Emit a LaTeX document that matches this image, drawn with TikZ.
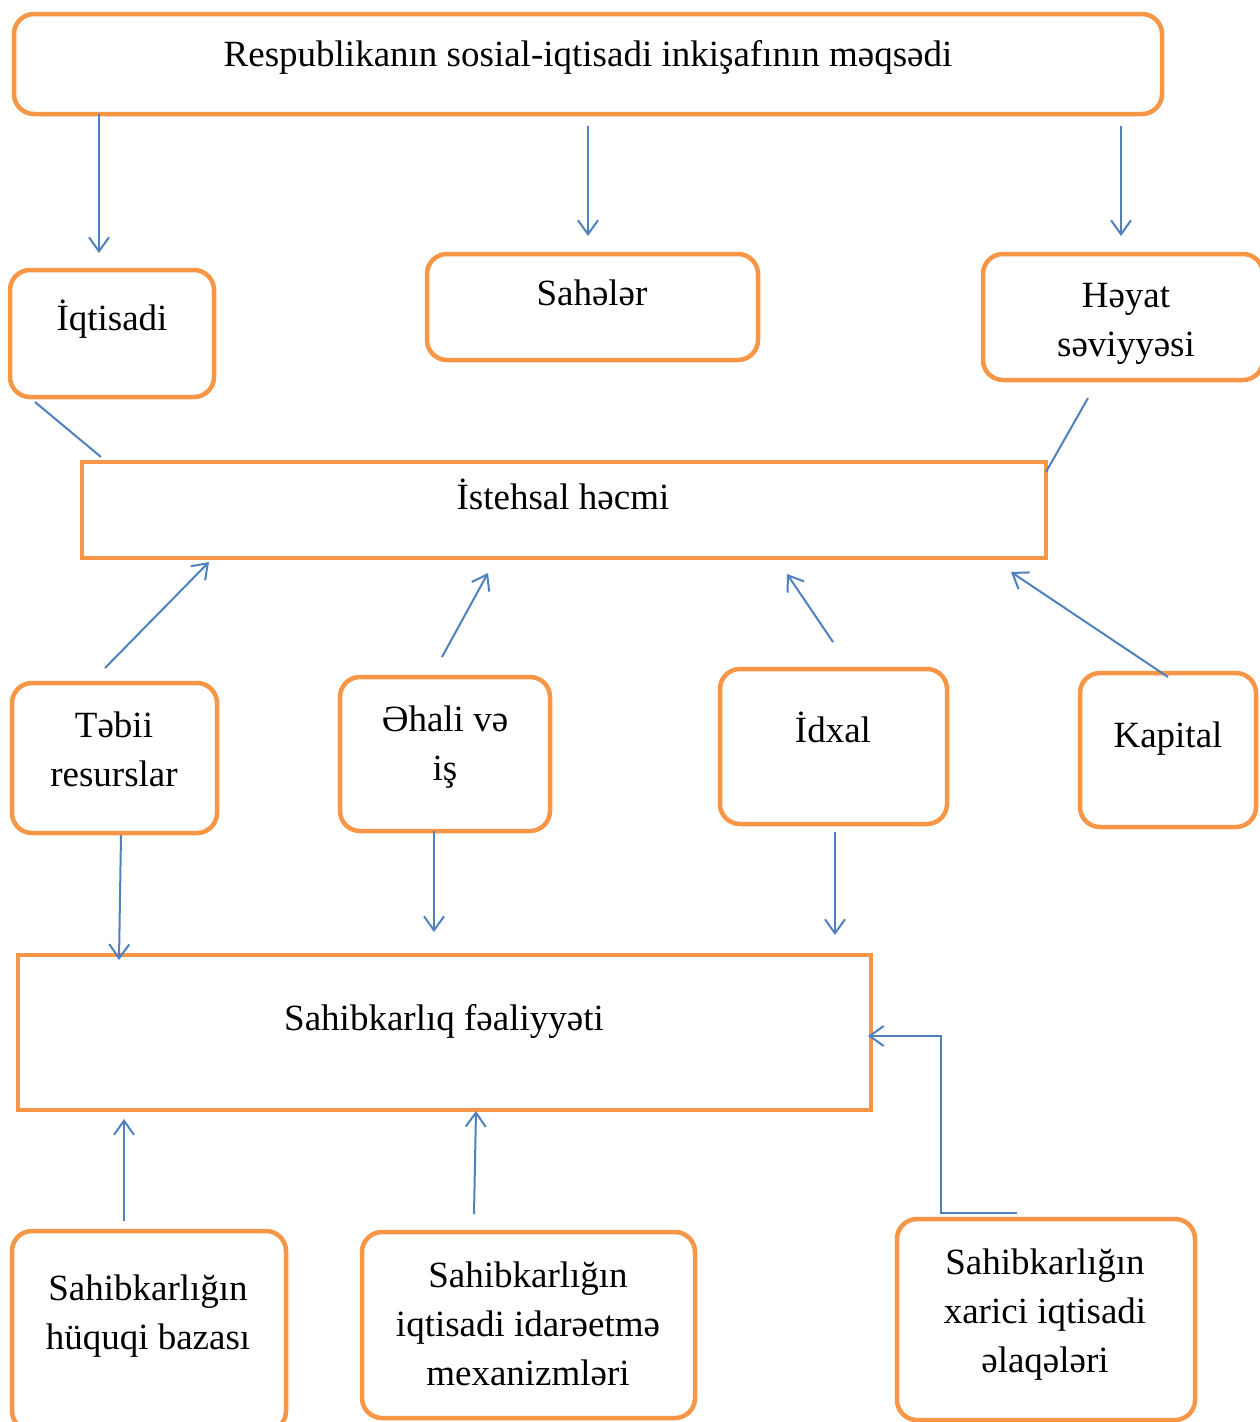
\documentclass[tikz,border=0pt]{standalone}
\usepackage{fontspec}
\setmainfont{Liberation Serif}
\usetikzlibrary{arrows.meta}
\definecolor{boxorange}{HTML}{F79646}
\definecolor{arrowblue}{HTML}{4F81BD}
\begin{document}
\begin{tikzpicture}[x=1pt,y=-1pt,
  rbox/.style={draw=boxorange,line width=4.5pt,rounded corners=20pt,rectangle,inner sep=0pt},
  sbox/.style={draw=boxorange,line width=4.5pt,rectangle,inner sep=0pt},
  lbl/.style={font=\fontsize{37}{49}\selectfont,align=center,anchor=base,inner sep=0pt},
  arr/.style={draw=arrowblue,line width=2pt,-{Straight Barb[length=14pt,width=20pt,line width=2pt]}},
  ln/.style={draw=arrowblue,line width=2pt}]
\useasboundingbox[fill=white] (0,0) rectangle (1259,1422);
% boxes
\node[rbox,minimum width=1148pt,minimum height=100pt] (top) at (588,64) {};
\node[rbox,minimum width=204pt,minimum height=127pt] (iqt) at (112,333.5) {};
\node[rbox,minimum width=331pt,minimum height=106pt] (sah) at (592.5,307) {};
\node[rbox,minimum width=280pt,minimum height=126pt] (hey) at (1123,317) {};
\node[sbox,minimum width=964pt,minimum height=96pt] (ist) at (564,510) {};
\node[rbox,minimum width=205pt,minimum height=150pt] (teb) at (114.5,758) {};
\node[rbox,minimum width=210pt,minimum height=154pt] (ehl) at (445,754) {};
\node[rbox,minimum width=227pt,minimum height=155pt] (idx) at (833.5,746.5) {};
\node[rbox,minimum width=176pt,minimum height=154pt] (kap) at (1168,750) {};
\node[sbox,minimum width=853pt,minimum height=155pt] (sfl) at (444.5,1032.5) {};
\node[rbox,minimum width=274pt,minimum height=200pt] (huq) at (149,1331) {};
\node[rbox,minimum width=333pt,minimum height=186pt] (ida) at (528.5,1325) {};
\node[rbox,minimum width=298pt,minimum height=201pt] (xar) at (1046,1319.5) {};
% texts (multi-line texts are placed by the baseline of their last line)
\node[lbl] (ttop) at (588,66) {Respublikanın sosial-iqtisadi inkişafının məqsədi};
\node[lbl] (tiqt) at (112,330) {İqtisadi};
\node[lbl] (tsah) at (592,305) {Sahələr};
\node[lbl] (they) at (1126,356) {Həyat\\səviyyəsi};
\node[lbl] (tist) at (563,509) {İstehsal həcmi};
\node[lbl] (tteb) at (114,786) {Təbii\\resurslar};
\node[lbl] (tehl) at (445,780) {Əhali və\\iş};
\node[lbl] (tidx) at (833,742) {İdxal};
\node[lbl] (tkap) at (1168,747) {Kapital};
\node[lbl] (tsfl) at (444,1030) {Sahibkarlıq fəaliyyəti};
\node[lbl] (thuq) at (148,1349) {Sahibkarlığın\\hüquqi bazası};
\node[lbl] (tida) at (528,1385) {Sahibkarlığın\\iqtisadi idarəetmə\\mexanizmləri};
\node[lbl] (txar) at (1045,1372) {Sahibkarlığın\\xarici iqtisadi\\əlaqələri};
% connector endpoints
\coordinate (a1s) at (99,114);   \coordinate (a1e) at (99,253);
\coordinate (a2s) at (588,126);  \coordinate (a2e) at (588,236);
\coordinate (a3s) at (1121,126); \coordinate (a3e) at (1121,236);
\coordinate (l1s) at (35,402);   \coordinate (l1e) at (101,457);
\coordinate (l2s) at (1088,398); \coordinate (l2e) at (1046,472);
\coordinate (b1s) at (105,668);  \coordinate (b1e) at (209,562);
\coordinate (b2s) at (442,657);  \coordinate (b2e) at (488,573);
\coordinate (b3s) at (833,642);  \coordinate (b3e) at (787,574);
\coordinate (b4s) at (1168,677); \coordinate (b4e) at (1011,572);
\coordinate (c1s) at (121,835);  \coordinate (c1e) at (119,960);
\coordinate (c2s) at (434,831);  \coordinate (c2e) at (434,932);
\coordinate (c3s) at (835,832);  \coordinate (c3e) at (835,935);
\coordinate (d1s) at (124,1221); \coordinate (d1e) at (124,1119);
\coordinate (d2s) at (474,1214); \coordinate (d2e) at (476,1111);
\coordinate (d3s) at (1017,1213); \coordinate (d3a) at (941,1213);
\coordinate (d3b) at (941,1036); \coordinate (d3e) at (868,1036);
% connectors
\draw[arr] (a1s) -- (a1e);
\draw[arr] (a2s) -- (a2e);
\draw[arr] (a3s) -- (a3e);
\draw[ln] (l1s) -- (l1e);
\draw[ln] (l2s) -- (l2e);
\draw[arr] (b1s) -- (b1e);
\draw[arr] (b2s) -- (b2e);
\draw[arr] (b3s) -- (b3e);
\draw[arr] (b4s) -- (b4e);
\draw[arr] (c1s) -- (c1e);
\draw[arr] (c2s) -- (c2e);
\draw[arr] (c3s) -- (c3e);
\draw[arr] (d1s) -- (d1e);
\draw[arr] (d2s) -- (d2e);
\draw[arr] (d3s) -- (d3a) -- (d3b) -- (d3e);
\end{tikzpicture}
\end{document}
